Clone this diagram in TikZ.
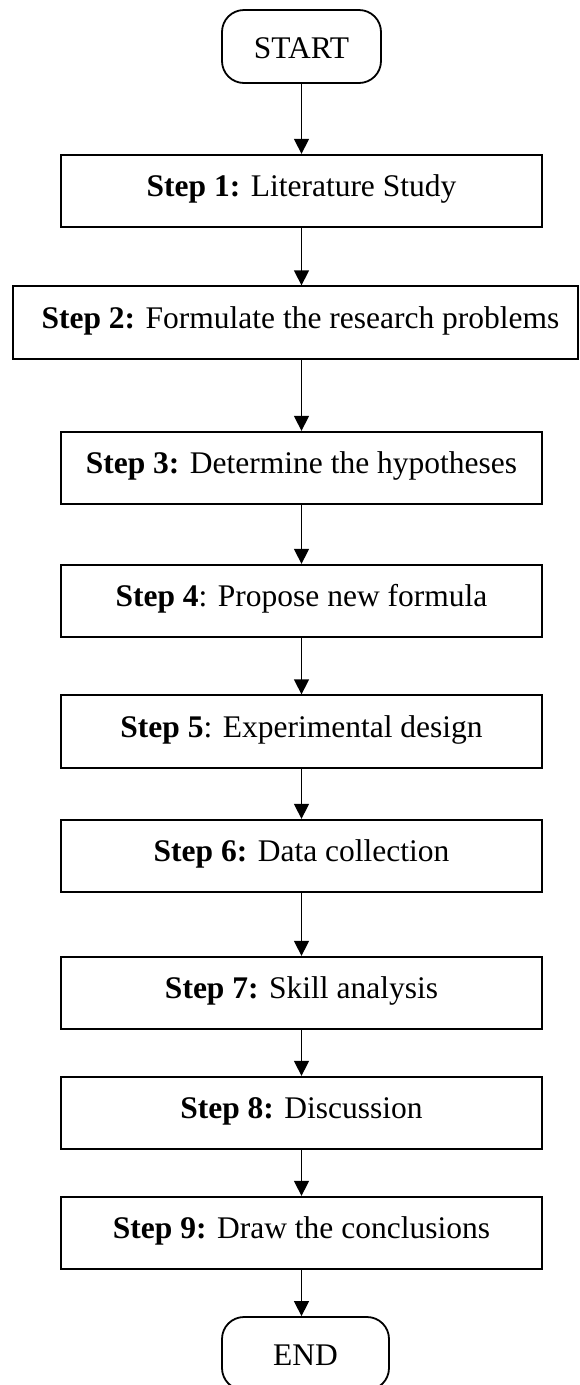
\documentclass[tikz,border=0pt]{standalone}
\usepackage{fontspec}
\setmainfont{Liberation Serif}
\usetikzlibrary{arrows.meta}
\begin{document}
\begin{tikzpicture}[x=1pt,y=-1pt,
  txt/.style={font=\fontsize{31.5}{38}\selectfont},
  stepbox/.style={txt, draw, line width=1.8pt, minimum width=481pt, minimum height=72.5pt,
    inner sep=0pt, text height=21.4pt, text depth=10pt},
  termbox/.style={txt, draw, line width=1.8pt, rounded corners=22pt, minimum height=73pt,
    inner sep=0pt, text height=24.6pt, text depth=0pt},
  conn/.style={line width=1.4pt, -{Triangle[length=15pt,width=15pt]}}]
\useasboundingbox (0,0) rectangle (579,1385);

\node[termbox, minimum width=159pt] (start) at (301.5,46.5) {START};
\node[stepbox] (s1) at (301.5,191) {\textbf{Step 1:} Literature Study};
\node[stepbox, minimum width=565pt] (s2) at (295.5,322.5) {\hspace*{10pt}\textbf{Step 2:} Formulate the research problems};
\node[stepbox] (s3) at (301.5,468) {\textbf{Step 3:} Determine the hypotheses};
\node[stepbox] (s4) at (301.5,601) {\textbf{Step 4}: Propose new formula};
\node[stepbox] (s5) at (301.5,731.5) {\textbf{Step 5}: Experimental design};
\node[stepbox] (s6) at (301.5,856) {\textbf{Step 6:} Data collection};
\node[stepbox] (s7) at (301.5,993) {\textbf{Step 7:} Skill analysis};
\node[stepbox] (s8) at (301.5,1113) {\textbf{Step 8:} Discussion};
\node[stepbox] (s9) at (301.5,1233) {\textbf{Step 9:} Draw the conclusions};
\node[termbox, minimum width=167pt] (end) at (305.5,1353.5) {END};

\draw[conn] (start) -- (s1);
\draw[conn] (s1.south) -- (s1.south |- s2.north);
\draw[conn] (s3.north |- s2.south) -- (s3.north);
\draw[conn] (s3) -- (s4);
\draw[conn] (s4) -- (s5);
\draw[conn] (s5) -- (s6);
\draw[conn] (s6) -- (s7);
\draw[conn] (s7) -- (s8);
\draw[conn] (s8) -- (s9);
\draw[conn] (s9.south) -- (s9.south |- end.north);
\end{tikzpicture}
\end{document}
